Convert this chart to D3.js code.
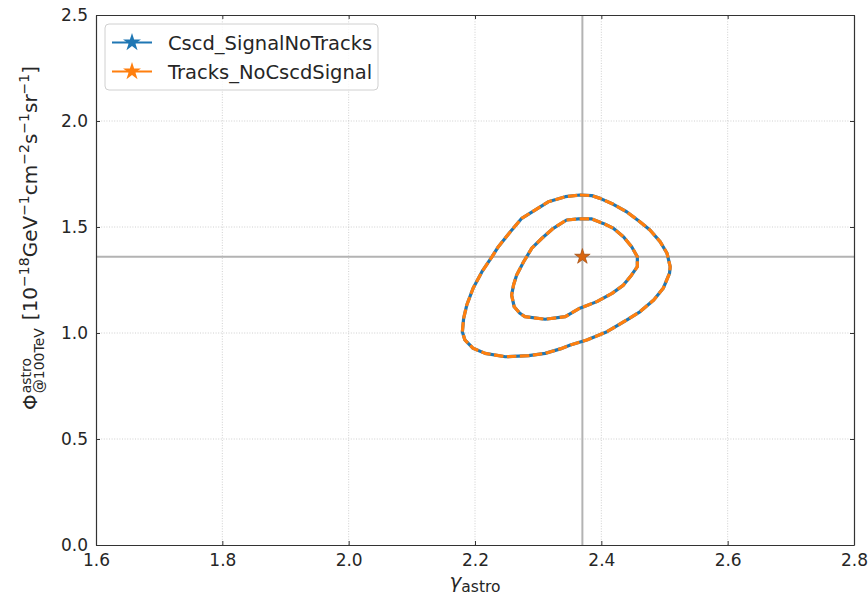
<!DOCTYPE html>
<html><head><meta charset="utf-8">
<script src="https://cdn.jsdelivr.net/npm/d3@7"></script>
<style>body{margin:0;background:#fff}svg{display:block}text{font-family:"DejaVu Sans",sans-serif;fill:#262626}</style>
</head><body><svg id="c" width="868" height="599"></svg>
<script>
// ---- data ----
const xTicks = [1.6, 1.8, 2.0, 2.2, 2.4, 2.6, 2.8];
const yTicks = [0.0, 0.5, 1.0, 1.5, 2.0, 2.5];
const seriesNames = ["Cscd_SignalNoTracks", "Tracks_NoCscdSignal"];
const bestFit = [2.37, 1.36];
// 2-sigma (outer) contour: [gamma, phi]
const outerContour = [
 [2.366,1.651],[2.385,1.648],[2.398,1.635],[2.419,1.607],[2.440,1.572],[2.461,1.525],
 [2.477,1.486],[2.493,1.431],[2.504,1.376],[2.509,1.313],[2.508,1.282],[2.498,1.211],
 [2.483,1.156],[2.461,1.100],[2.440,1.061],[2.409,1.006],[2.377,0.967],[2.351,0.943],
 [2.335,0.925],[2.311,0.904],[2.285,0.893],[2.248,0.888],[2.216,0.904],[2.197,0.928],
 [2.184,0.967],[2.180,1.006],[2.182,1.069],[2.187,1.132],[2.197,1.211],[2.211,1.289],
 [2.227,1.360],[2.237,1.407],[2.256,1.478],[2.274,1.541],[2.295,1.580],[2.316,1.619],
 [2.343,1.643]
];
// 1-sigma (inner) contour
const innerContour = [
 [2.345,1.533],[2.364,1.538],[2.385,1.538],[2.403,1.517],[2.419,1.494],[2.435,1.454],
 [2.448,1.407],[2.457,1.360],[2.457,1.313],[2.448,1.274],[2.435,1.226],[2.417,1.187],
 [2.393,1.148],[2.366,1.117],[2.343,1.077],[2.311,1.065],[2.279,1.077],[2.271,1.093],
 [2.262,1.124],[2.258,1.179],[2.261,1.226],[2.266,1.274],[2.277,1.336],[2.290,1.400],
 [2.306,1.447],[2.324,1.494]
];

// ---- layout ----
const W = 868, H = 599;
const m = {l:96, r:14, t:15, b:54};
const svg = d3.select("#c");
const x = d3.scaleLinear().domain([1.6, 2.8]).range([m.l, W - m.r]);
const y = d3.scaleLinear().domain([0, 2.5]).range([H - m.b, m.t]);
const colors = ["#1f77b4", "#ff7f0e"];

// grid
const grid = svg.append("g");
grid.selectAll("line.gx").data(xTicks.slice(1, -1)).join("line")
  .attr("x1", d => x(d)).attr("x2", d => x(d)).attr("y1", y(0)).attr("y2", y(2.5))
  .attr("stroke", "#c4c4c4").attr("stroke-width", 0.8).attr("stroke-dasharray", "1,1.6");
grid.selectAll("line.gy").data(yTicks.slice(1, -1)).join("line")
  .attr("y1", d => y(d)).attr("y2", d => y(d)).attr("x1", x(1.6)).attr("x2", x(2.8))
  .attr("stroke", "#c4c4c4").attr("stroke-width", 0.8).attr("stroke-dasharray", "1,1.6");

// crosshair
svg.append("line").attr("x1", x(bestFit[0])).attr("x2", x(bestFit[0]))
  .attr("y1", y(0)).attr("y2", y(2.5)).attr("stroke", "#b3b3b3").attr("stroke-width", 2);
svg.append("line").attr("y1", y(bestFit[1])).attr("y2", y(bestFit[1]))
  .attr("x1", x(1.6)).attr("x2", x(2.8)).attr("stroke", "#b3b3b3").attr("stroke-width", 2);

// contours
const line = d3.line().x(d => x(d[0])).y(d => y(d[1])).curve(d3.curveLinearClosed);
[outerContour, innerContour].forEach(c => {
  svg.append("path").attr("d", line(c)).attr("fill", "none")
    .attr("stroke", colors[0]).attr("stroke-width", 3.2).attr("stroke-linejoin", "round");
  svg.append("path").attr("d", line(c)).attr("fill", "none")
    .attr("stroke", colors[1]).attr("stroke-width", 3.2).attr("stroke-dasharray", "9.5,3.5")
    .attr("stroke-linejoin", "round");
});

// best-fit stars
const star = d3.symbol().type(d3.symbolStar).size(75);
svg.append("path").attr("d", star()).attr("transform", `translate(${x(bestFit[0])},${y(bestFit[1])})`)
  .attr("fill", colors[0]);
svg.append("path").attr("d", star()).attr("transform", `translate(${x(bestFit[0])},${y(bestFit[1])})`)
  .attr("fill", "#d9650f").attr("stroke", "#b8560f").attr("stroke-width", 0.6);

// axes (ticks inward on all sides)
const fmt = d3.format(".1f");
const ax = svg.append("g").attr("transform", `translate(0,${y(0)})`)
  .call(d3.axisBottom(x).tickValues(xTicks).tickFormat(fmt).tickSizeInner(-4).tickSizeOuter(0).tickPadding(9));
const axT = svg.append("g").attr("transform", `translate(0,${y(2.5)})`)
  .call(d3.axisTop(x).tickValues(xTicks).tickFormat("").tickSizeInner(-4).tickSizeOuter(0));
const ay = svg.append("g").attr("transform", `translate(${x(1.6)},0)`)
  .call(d3.axisLeft(y).tickValues(yTicks).tickFormat(fmt).tickSizeInner(-4).tickSizeOuter(0).tickPadding(8));
const ayR = svg.append("g").attr("transform", `translate(${x(2.8)},0)`)
  .call(d3.axisRight(y).tickValues(yTicks).tickFormat("").tickSizeInner(-4).tickSizeOuter(0));
[ax, axT, ay, ayR].forEach(g => {
  g.select(".domain").attr("stroke", "#333").attr("stroke-width", 1.2);
  g.selectAll(".tick line").attr("stroke", "#333").attr("stroke-width", 1);
  g.selectAll(".tick text").attr("font-family", "DejaVu Sans").attr("font-size", 17).attr("fill", "#262626");
});

// x label
const xl = svg.append("text").attr("x", x(2.2)).attr("y", 588).attr("text-anchor", "middle");
xl.append("tspan").text("γ").attr("font-size", 20).attr("font-style", "italic");
xl.append("tspan").text("astro").attr("font-size", 15.5).attr("dy", 4);

// y label (rotated, built from pieces)
const yl = svg.append("g").attr("transform", "translate(37,410) rotate(-90)");
let cur = 0;
function piece(txt, fs, dy, adv) {
  const t = yl.append("text").attr("x", cur).attr("y", dy).attr("font-size", fs).text(txt);
  const w = t.node().getComputedTextLength();
  if (adv !== false) cur += w;
  return w;
}
piece("Φ", 20, 0);
const c0 = cur + 1;
cur = c0;
const wa = piece("astro", 14, -6, false);
const ws = piece("@100TeV", 14, 7, false);
cur = c0 + Math.max(wa, ws) + 8;
piece("[10", 20, 0);
piece("−18", 14, -8);
piece("GeV", 20, 0);
piece("−1", 14, -8);
piece("cm", 20, 0);
piece("−2", 14, -8);
piece("s", 20, 0);
piece("−1", 14, -8);
piece("sr", 20, 0);
piece("−1", 14, -8);
piece("]", 20, 0);

// legend
const lg = svg.append("g");
lg.append("rect").attr("x", 105).attr("y", 24).attr("width", 273).attr("height", 66).attr("rx", 4)
  .attr("fill", "#fff").attr("fill-opacity", 0.8).attr("stroke", "#d0d0d0").attr("stroke-width", 1);
seriesNames.forEach((n, i) => {
  const yy = 42.5 + i * 29;
  lg.append("line").attr("x1", 112).attr("x2", 152).attr("y1", yy).attr("y2", yy)
    .attr("stroke", colors[i]).attr("stroke-width", 2.2);
  lg.append("path").attr("d", d3.symbol().type(d3.symbolStar).size(100)())
    .attr("transform", `translate(132,${yy})`).attr("fill", colors[i]);
  lg.append("text").attr("x", 168).attr("y", yy + 7).attr("font-size", 19.5).text(n);
});
</script></body></html>
